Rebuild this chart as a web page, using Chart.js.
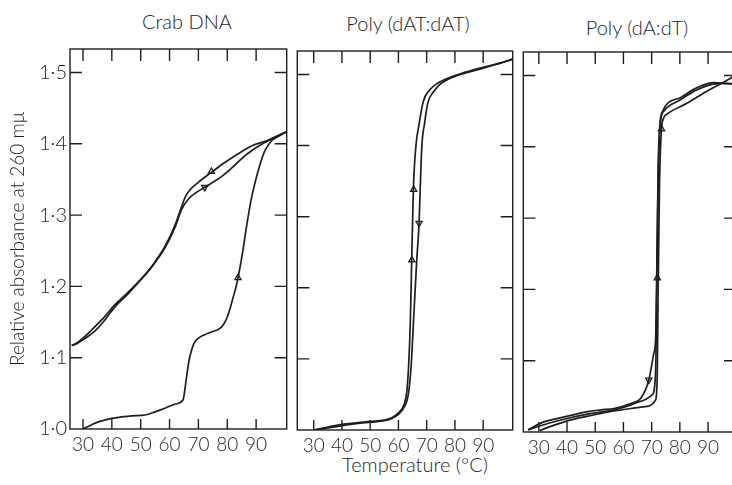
<!DOCTYPE html>
<html>
<head>
<meta charset="utf-8">
<script src="https://cdn.jsdelivr.net/npm/chart.js@4.4.1/dist/chart.umd.min.js"></script>
<style>
  html, body { margin: 0; padding: 0; background: #fff; overflow: hidden; }
  body { width: 732px; height: 485px; position: relative; font-family: Lato, "Open Sans", sans-serif; font-weight: 300; color: #1e1e1e; }
  .panel { position: absolute; top: 0; }
  .label { position: absolute; white-space: nowrap; transform: translateX(-50%); font-size: 20px; line-height: 1; }
</style>
</head>
<body>
<div class="label" style="left:187px; top:11px;">Crab DNA</div>
<div class="label" style="left:408px; top:13px;">Poly (dAT:dAT)</div>
<div class="label" style="left:637px; top:17px;">Poly (dA:dT)</div>
<div class="label" style="left:415px; top:454px;">Temperature (°C)</div>

<canvas class="panel" id="crab" width="292" height="485" style="left:0px"></canvas>
<canvas class="panel" id="dat" width="226" height="485" style="left:292px"></canvas>
<canvas class="panel" id="dadt" width="230" height="485" style="left:518px"></canvas>

<script>
const INK = "#1e1e1e";
const FONT = "Lato, 'Open Sans', sans-serif";

const X_TICKS = [30, 40, 50, 60, 70, 80, 90];
const Y_TICKS = [1.0, 1.1, 1.2, 1.3, 1.4, 1.5];

/* ---- Crab DNA: [temperature, relative absorbance] ---- */
const crabFirstHeat = [
  [30, 1.0], [33, 1.006], [35.3, 1.010], [40, 1.015], [43.4, 1.017], [47, 1.0185],
  [51.5, 1.0196], [55, 1.024], [58.4, 1.029], [62, 1.035], [64.7, 1.041], [65.3, 1.055],
  [65.9, 1.073], [66.7, 1.095], [67.6, 1.110], [68.6, 1.121], [69.9, 1.127], [72, 1.132],
  [74.5, 1.136], [78, 1.143], [79.6, 1.153], [80.9, 1.168], [82, 1.184], [83.2, 1.202],
  [84.2, 1.222], [85.4, 1.250], [86.6, 1.282], [88.3, 1.322], [90.1, 1.353], [91.6, 1.374],
  [93, 1.390], [95.3, 1.404], [97.5, 1.41], [100.6, 1.417],
];
const crabCool = [
  [26.1, 1.117], [28, 1.121], [30.7, 1.130], [34, 1.143], [37.6, 1.158], [41, 1.174],
  [45.7, 1.192], [50, 1.21], [53.8, 1.228], [58.4, 1.256], [61.8, 1.285], [64.2, 1.312],
  [65.5, 1.326], [67, 1.335], [70, 1.346], [74.5, 1.360], [78.5, 1.372], [82.6, 1.383],
  [88.4, 1.397], [94.1, 1.405], [100.6, 1.417],
];
const crabReheat = [
  [26.1, 1.117], [28, 1.120], [30.7, 1.127], [34, 1.137], [37.6, 1.153], [41, 1.171],
  [45.7, 1.190], [50, 1.209], [53.8, 1.227], [58.4, 1.254], [61.8, 1.282], [64.2, 1.308],
  [66.4, 1.322], [69, 1.331], [72.2, 1.339], [75, 1.346], [78, 1.354], [81.5, 1.366],
  [84.9, 1.379], [89, 1.392], [93, 1.402], [96, 1.408], [100.6, 1.417],
];
const crabArrows = [[83.7, 1.212, 0], [74.5, 1.361, 0], [72.2, 1.339, 180]];

/* ---- Poly (dAT:dAT) ---- */
const datHeat = [
  [30, 1.0], [35, 1.004], [40, 1.008], [45, 1.010], [50, 1.012], [55, 1.014], [58, 1.018],
  [60, 1.024], [62, 1.036], [63, 1.055], [63.6, 1.09], [64.2, 1.15], [64.7, 1.24],
  [65.3, 1.34], [66.2, 1.40], [67.3, 1.43], [68.8, 1.462], [71, 1.478], [74, 1.488],
  [77, 1.494], [82, 1.501], [90, 1.510], [96, 1.516], [100.5, 1.522],
];
const datCool = [
  [30, 1.0], [35, 1.003], [40, 1.006], [45, 1.009], [50, 1.011], [55, 1.013], [58, 1.017],
  [60, 1.022], [62, 1.032], [63.5, 1.05], [64.5, 1.09], [65.3, 1.15], [66.5, 1.24],
  [67.3, 1.29], [67.8, 1.35], [68.3, 1.40], [69.2, 1.43], [70.4, 1.46], [72.5, 1.476],
  [75, 1.487], [78, 1.494], [82, 1.500], [90, 1.509], [96, 1.516], [100.5, 1.521],
];
const datArrows = [[64.75, 1.239, 0], [65.4, 1.338, 0], [67.3, 1.291, 180]];

/* ---- Poly (dA:dT) ---- */
const dadtCool = [
  [26.2, 1.003], [28, 1.007], [32, 1.0145], [35.6, 1.018], [41, 1.023], [47.3, 1.0286],
  [52, 1.031], [56.7, 1.033], [62.6, 1.040], [66.1, 1.047], [69, 1.073], [70.8, 1.111],
  [71.4, 1.13], [71.8, 1.22], [72.3, 1.37], [72.9, 1.43], [73.8, 1.449], [80.2, 1.469],
  [86.1, 1.483], [91.9, 1.490], [96, 1.489], [100, 1.488],
];
const dadtHeat1 = [
  [26.2, 1.003], [30, 1.008], [33.2, 1.012], [40, 1.019], [47.3, 1.025], [56.7, 1.031],
  [62, 1.037], [66.1, 1.043], [70.2, 1.052], [71.4, 1.083], [71.8, 1.2], [72.2, 1.33],
  [72.6, 1.40], [73.3, 1.44], [74.3, 1.45], [80.2, 1.466], [86.1, 1.480], [91.9, 1.488],
  [96, 1.489], [100, 1.488],
];
const dadtHeat2 = [
  [30.3, 1.002], [35, 1.009], [41.4, 1.017], [47, 1.022], [53.2, 1.027], [62.6, 1.033],
  [68.4, 1.036], [71.4, 1.045], [72, 1.083], [72.3, 1.2], [72.8, 1.35], [73.4, 1.42],
  [74.2, 1.44], [75.5, 1.446], [82.5, 1.461], [89.6, 1.478], [94.3, 1.488], [100, 1.501],
];
const dadtArrows = [[72.0, 1.216, 0], [69.0, 1.073, 180], [73.5, 1.425, 0]];

const toXY = (arr) => arr.map(([x, y]) => ({ x, y }));

function curve(points) {
  return {
    data: toXY(points),
    borderColor: INK,
    borderWidth: 1.7,
    pointRadius: 0,
    fill: false,
    cubicInterpolationMode: "monotone",
  };
}

function arrows(points) {
  return {
    data: toXY(points),
    showLine: false,
    pointStyle: "triangle",
    pointRadius: 3.6,
    pointRotation: points.map((p) => p[2]),
    pointBackgroundColor: "#ffffff",
    pointBorderColor: INK,
    pointBorderWidth: 1.3,
  };
}

const frameTicks = {
  id: "frameTicks",
  beforeDatasetsDraw(chart) {
    const { ctx, chartArea: a, scales: { x, y } } = chart;
    ctx.save();
    ctx.strokeStyle = INK;
    ctx.lineWidth = 1.4;
    ctx.strokeRect(a.left, a.top, a.right - a.left, a.bottom - a.top);
    ctx.beginPath();
    for (const t of X_TICKS) {
      const px = x.getPixelForValue(t);
      ctx.moveTo(px, a.top); ctx.lineTo(px, a.top + 12);
      ctx.moveTo(px, a.bottom); ctx.lineTo(px, a.bottom - 10);
    }
    for (const t of Y_TICKS.slice(1)) {
      const py = y.getPixelForValue(t);
      ctx.moveTo(a.left, py); ctx.lineTo(a.left + 12, py);
      ctx.moveTo(a.right, py); ctx.lineTo(a.right - 12, py);
    }
    ctx.stroke();
    ctx.restore();
  },
};

function makePanel(id, { xMin, xMax, padLeft, padRight, padTop, xHeight, yWidth, showY, datasets }) {
  return new Chart(document.getElementById(id), {
    type: "line",
    data: { datasets },
    options: {
      responsive: false,
      devicePixelRatio: 1,
      animation: false,
      layout: { padding: { left: padLeft, right: padRight, top: padTop, bottom: 0 } },
      plugins: { legend: { display: false }, tooltip: { enabled: false } },
      scales: {
        x: {
          type: "linear",
          min: xMin,
          max: xMax,
          afterBuildTicks: (s) => { s.ticks = X_TICKS.map((v) => ({ value: v })); },
          afterFit: (s) => { s.height = xHeight; },
          grid: { display: false, drawTicks: false, tickLength: 0 },
          border: { display: false },
          ticks: { color: INK, font: { family: FONT, size: 19, weight: 300 }, padding: 4, maxRotation: 0 },
        },
        y: {
          type: "linear",
          min: 1.0,
          max: 1.533,
          afterBuildTicks: (s) => { s.ticks = Y_TICKS.map((v) => ({ value: v })); },
          afterFit: (s) => { s.width = yWidth; },
          grid: { display: false, drawTicks: false, tickLength: 0 },
          border: { display: false },
          ticks: {
            display: showY,
            color: INK,
            padding: 3,
            font: { family: FONT, size: 20, weight: 300 },
            callback: (v) => v.toFixed(1).replace(".", "·"),
          },
          title: {
            display: showY,
            text: "Relative absorbance at 260 mμ",
            color: INK,
            font: { family: FONT, size: 19, weight: 300 },
            padding: { top: 6, bottom: 0 },
          },
        },
      },
    },
    plugins: [frameTicks],
  });
}

makePanel("crab", {
  xMin: 25.5, xMax: 100.6, padLeft: 0, padRight: 5, padTop: 49, xHeight: 56, yWidth: 70, showY: true,
  datasets: [curve(crabFirstHeat), curve(crabCool), curve(crabReheat), arrows(crabArrows)],
});

makePanel("dat", {
  xMin: 24.2, xMax: 100.45, padLeft: 3, padRight: 5, padTop: 51, xHeight: 55, yWidth: 0, showY: false,
  datasets: [curve(datHeat), curve(datCool), arrows(datArrows)],
});

makePanel("dadt", {
  xMin: 24.5, xMax: 99.9, padLeft: 4, padRight: 12, padTop: 52, xHeight: 53, yWidth: 0, showY: false,
  datasets: [curve(dadtCool), curve(dadtHeat1), curve(dadtHeat2), arrows(dadtArrows)],
});
</script>
</body>
</html>
